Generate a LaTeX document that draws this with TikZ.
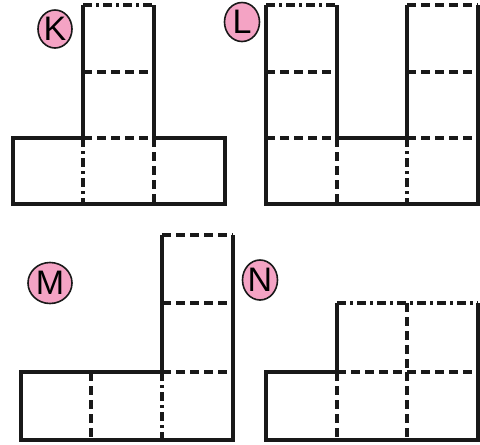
\documentclass[tikz,border=0pt]{standalone}
\usepackage{fontspec}
\setsansfont{Liberation Sans}
\usetikzlibrary{shapes.geometric}
\definecolor{labelpink}{HTML}{F4A3C4}
\tikzset{
    outline/.style={line width=3.2pt, line join=miter, color=black!90},
    foldline/.style={line width=3.2pt, color=black!90, dash pattern=on 9pt off 5pt},
    folddot/.style={line width=3.2pt, color=black!90, dash pattern=on 9pt off 4pt on 3pt off 4pt},
    labelcircle/.style={ellipse, draw=black!90, line width=1.6pt, fill=labelpink, inner sep=0pt, font=\sffamily\fontsize{34}{34}\selectfont}
}

\begin{document}
\begin{tikzpicture}[x=1pt, y=-1pt]
    \useasboundingbox (0,0) rectangle (480,445);

    % net K
    \node (labK) [labelcircle, minimum width=34pt, minimum height=38pt] at (55,29) {K};
    \draw [outline] (83,5) -- (83,138) -- (13,138) -- (13,204) -- (225,204) -- (225,138) -- (154,138) -- (154,5);
    \draw [folddot] (83,5) -- (154,5);
    \draw [foldline] (83,72) -- (154,72);
    \draw [foldline] (83,138) -- (154,138);
    \draw [folddot] (83,138) -- (83,204);
    \draw [foldline] (154,138) -- (154,204);

    % net L
    \node (labL) [labelcircle, minimum width=35pt, minimum height=39pt] at (242,22) {L};
    \draw [outline] (266,5) -- (266,204) -- (478,204) -- (478,5);
    \draw [outline] (337,5) -- (337,138) -- (407,138) -- (407,5);
    \draw [folddot] (266,5) -- (337,5);
    \draw [foldline] (407,5) -- (478,5);
    \draw [foldline] (266,72) -- (337,72);
    \draw [foldline] (407,72) -- (478,72);
    \draw [foldline] (266,138) -- (337,138);
    \draw [foldline] (407,138) -- (478,138);
    \draw [foldline] (337,138) -- (337,204);
    \draw [folddot] (407,138) -- (407,204);

    % net M
    \node (labM) [labelcircle, minimum width=44pt, minimum height=41pt] at (50,283) {M};
    \draw [outline] (162,235) -- (162,372) -- (21,372) -- (21,440) -- (233,440) -- (233,235);
    \draw [foldline] (162,235) -- (233,235);
    \draw [foldline] (162,303) -- (233,303);
    \draw [foldline] (162,372) -- (233,372);
    \draw [foldline] (91,372) -- (91,440);
    \draw [folddot] (162,372) -- (162,440);

    % net N
    \node (labN) [labelcircle, minimum width=35pt, minimum height=40pt] at (260,280) {N};
    \draw [outline] (337,303) -- (337,372) -- (266,372) -- (266,440) -- (478,440) -- (478,303);
    \draw [folddot] (337,303) -- (478,303);
    \draw [foldline] (407,303) -- (407,372);
    \draw [foldline] (337,372) -- (478,372);
    \draw [foldline] (337,372) -- (337,440);
    \draw [foldline] (407,372) -- (407,440);
\end{tikzpicture}
\end{document}
